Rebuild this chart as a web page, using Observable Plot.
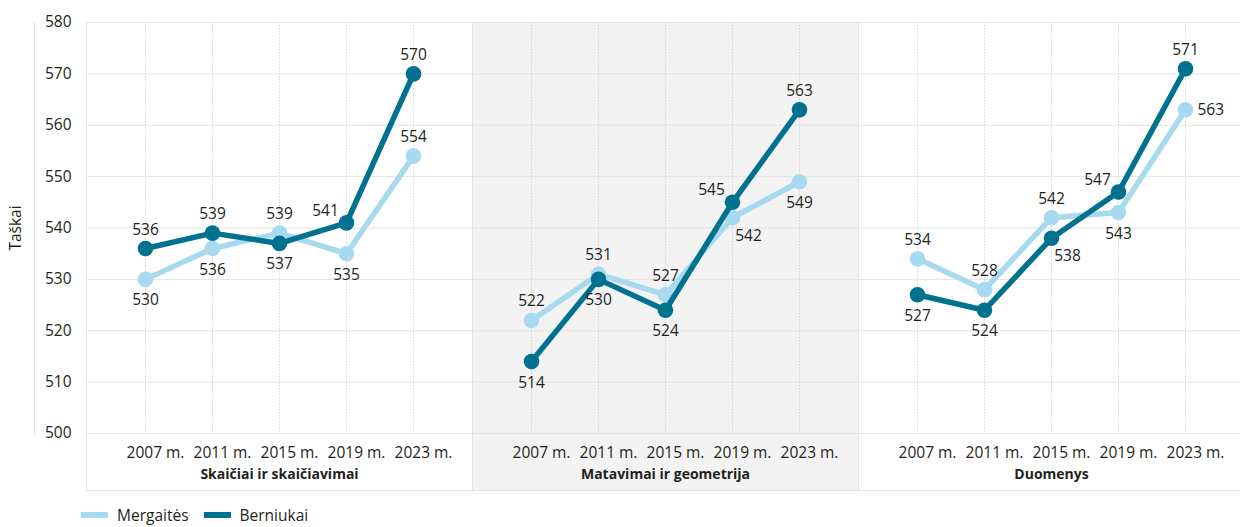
<!DOCTYPE html>
<html>
<head>
<meta charset="utf-8">
<script src="https://cdn.jsdelivr.net/npm/d3@7"></script>
<script src="https://cdn.jsdelivr.net/npm/@observablehq/plot@0.6"></script>
<style>
  html, body { margin: 0; padding: 0; background: #fff; }
  body { width: 1240px; height: 527px; overflow: hidden; font-family: "Open Sans", sans-serif; color: #231f20; }
  #chart { width: 1240px; height: 497px; overflow: hidden; }
  #chart svg { max-width: none !important; display: block; }
  #legend { display: flex; align-items: center; margin-left: 81px; margin-top: 9px; font-size: 15.5px; line-height: 18px; }
  .sw { display: inline-block; width: 27px; height: 6px; margin-right: 9px; }
  .item { display: flex; align-items: center; margin-right: 15px; }
</style>
</head>
<body>
<div id="chart"></div>
<div id="legend"></div>
<script>
const panels = ["Skaičiai ir skaičiavimai", "Matavimai ir geometrija", "Duomenys"];
const years = ["2007 m.", "2011 m.", "2015 m.", "2019 m.", "2023 m."];
const seriesNames = ["Mergaitės", "Berniukai"];
const seriesColors = ["#a7daf1", "#00718f"];
const yTicks = [500, 510, 520, 530, 540, 550, 560, 570, 580];

// values per panel (order of panels)
const girlsValues = [
  [530, 536, 539, 535, 554],
  [522, 531, 527, 542, 549],
  [534, 528, 542, 543, 563]
];
const boysValues = [
  [536, 539, 537, 541, 570],
  [514, 530, 524, 545, 563],
  [527, 524, 538, 547, 571]
];
// label placement: t=top, b=bottom, tl=top-left, br=bottom-right, r=right
const girlsLabelPlace = [
  ["b", "b", "t", "b", "t"],
  ["t", "t", "t", "br", "b"],
  ["t", "t", "t", "b", "r"]
];
const boysLabelPlace = [
  ["t", "t", "b", "tl", "t"],
  ["b", "b", "b", "tl", "t"],
  ["b", "b", "br", "tl", "t"]
];

function rows(values, places, series) {
  const out = [];
  panels.forEach((p, i) => years.forEach((yr, j) => out.push({panel: p, year: yr, value: values[i][j], place: places[i][j], series})));
  return out;
}
const girls = rows(girlsValues, girlsLabelPlace, seriesNames[0]);
const boys = rows(boysValues, boysLabelPlace, seriesNames[1]);
const all = girls.concat(boys);

const placeStyle = {
  t: {dx: 0, dy: -19, textAnchor: "middle"},
  b: {dx: 0, dy: 21, textAnchor: "middle"},
  tl: {dx: -21, dy: -12, textAnchor: "middle"},
  br: {dx: 16, dy: 18, textAnchor: "middle"},
  r: {dx: 12, dy: 0, textAnchor: "start"}
};

const textMarks = Object.entries(placeStyle).map(([k, s]) =>
  Plot.text(all.filter(d => d.place === k), {
    fx: "panel", x: "year", y: "value", text: d => String(d.value),
    dx: s.dx, dy: s.dy, textAnchor: s.textAnchor, fontSize: 15.5, fill: "#231f20"
  })
);

const lineOpts = (data) => [
  Plot.line(data, {fx: "panel", x: "year", y: "value", stroke: "series", strokeWidth: 5.5, strokeLinejoin: "round"}),
  Plot.dot(data, {fx: "panel", x: "year", y: "value", fill: "series", r: 7.8, stroke: null})
];

const plot = Plot.plot({
  width: 1244,
  height: 497,
  marginLeft: 86,
  marginRight: 0,
  marginTop: 22,
  marginBottom: 64,
  style: {fontFamily: "Open Sans, sans-serif", fontSize: "15.5px", color: "#231f20", background: "transparent", maxWidth: "none"},
  fx: {domain: panels, padding: 0, axis: null},
  x: {type: "point", domain: years, padding: 0.88, axis: null},
  y: {domain: [500, 580], axis: null},
  color: {domain: seriesNames, range: seriesColors},
  marks: [
    Plot.rect([{panel: panels[1]}], {fx: "panel", fill: "#f3f3f3", insetBottom: -57}),
    Plot.gridY(yTicks, {stroke: "#e3e3e3", strokeOpacity: 1, strokeWidth: 1}),
    Plot.gridX(years, {stroke: "#d6d6d6", strokeOpacity: 1, strokeDasharray: "1.5,1.5"}),
    Plot.frame({stroke: "#e3e3e3", strokeOpacity: 1, insetBottom: -57}),
    ...lineOpts(girls),
    ...lineOpts(boys),
    ...textMarks,
    Plot.axisY(yTicks, {anchor: "left", tickSize: 0, tickPadding: 15, fontSize: 15.5, label: "Taškai", labelAnchor: "center", labelOffset: 77, labelArrow: "none"}),
    Plot.axisX({anchor: "bottom", tickSize: 0, tickPadding: 13, dx: 10, fontSize: 15.5, label: null}),
    Plot.axisFx({anchor: "bottom", tickSize: 0, tickPadding: 36, fontSize: 14, fontWeight: "bold", label: null})
  ]
});

const svg = d3.select(plot);
const ys = plot.scale("y");
svg.append("line")
  .attr("x1", 34.5).attr("x2", 34.5)
  .attr("y1", ys.apply(580)).attr("y2", ys.apply(500) + 2)
  .attr("stroke", "#e3e3e3").attr("stroke-width", 1);

document.getElementById("chart").appendChild(plot);

const legend = document.getElementById("legend");
seriesNames.forEach((name, i) => {
  const item = document.createElement("div");
  item.className = "item";
  const sw = document.createElement("span");
  sw.className = "sw";
  sw.style.background = seriesColors[i];
  const t = document.createElement("span");
  t.textContent = name;
  item.appendChild(sw);
  item.appendChild(t);
  legend.appendChild(item);
});
</script>
</body>
</html>
